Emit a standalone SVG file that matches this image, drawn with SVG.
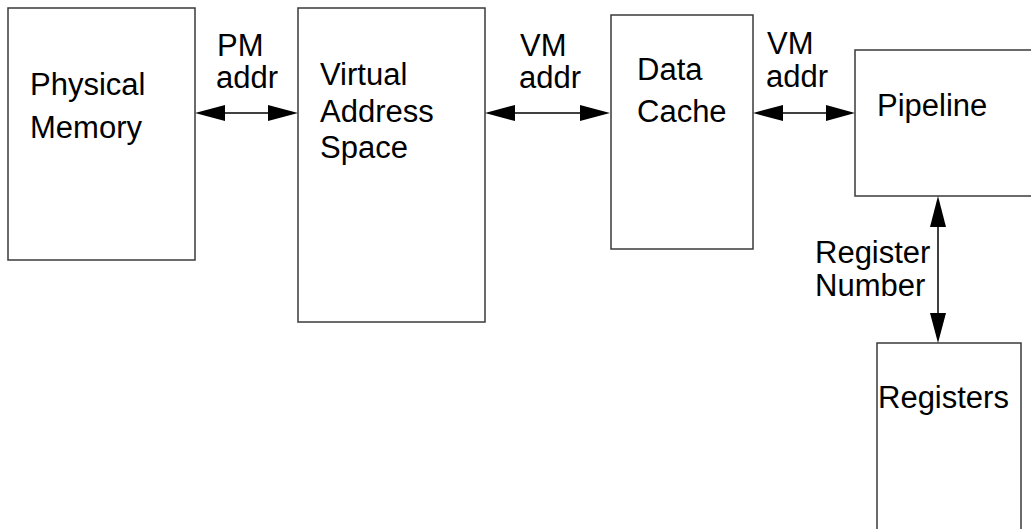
<svg xmlns="http://www.w3.org/2000/svg" width="1031" height="529" viewBox="0 0 1031 529">
  <style>
    .box { fill: #ffffff; stroke: #3a3a3a; stroke-width: 1.5; }
    .lbl { font-family: "Liberation Sans", Arial, sans-serif; font-size: 31px; fill: #000000; }
    .wire { stroke: #000000; stroke-width: 1.5; fill: none; }
    .head { fill: #000000; stroke: none; }
  </style>
  <rect width="1031" height="529" fill="#ffffff"/>

  <g id="physical-memory">
    <rect class="box" x="8" y="8" width="187" height="252"/>
    <text class="lbl" x="30" y="95">Physical</text>
    <text class="lbl" x="30" y="138">Memory</text>
  </g>

  <g id="virtual-address-space">
    <rect class="box" x="298" y="8" width="187" height="314"/>
    <text class="lbl" x="320" y="85">Virtual</text>
    <text class="lbl" x="320" y="122">Address</text>
    <text class="lbl" x="320" y="158">Space</text>
  </g>

  <g id="data-cache">
    <rect class="box" x="611" y="15" width="142" height="234"/>
    <text class="lbl" x="637" y="80">Data</text>
    <text class="lbl" x="637" y="122">Cache</text>
  </g>

  <g id="pipeline">
    <rect class="box" x="855" y="50" width="190" height="146"/>
    <text class="lbl" x="877" y="116">Pipeline</text>
  </g>

  <g id="registers">
    <rect class="box" x="877" y="343" width="144" height="200"/>
    <text class="lbl" x="878" y="408">Registers</text>
  </g>

  <g id="connectors">
    <!-- Physical Memory <-> Virtual Address Space -->
    <line class="wire" x1="220" y1="113" x2="272" y2="113"/>
    <polygon class="head" points="195,113 225,105 225,121"/>
    <polygon class="head" points="298,113 268,105 268,121"/>
    <text class="lbl" x="217" y="56">PM</text>
    <text class="lbl" x="216" y="88">addr</text>

    <!-- Virtual Address Space <-> Data Cache -->
    <line class="wire" x1="510" y1="113" x2="584" y2="113"/>
    <polygon class="head" points="485,113 515,105 515,121"/>
    <polygon class="head" points="610,113 580,105 580,121"/>
    <text class="lbl" x="520" y="56">VM</text>
    <text class="lbl" x="519" y="88">addr</text>

    <!-- Data Cache <-> Pipeline -->
    <line class="wire" x1="778" y1="113" x2="830" y2="113"/>
    <polygon class="head" points="753,113 783,105 783,121"/>
    <polygon class="head" points="855,113 826,105 826,121"/>
    <text class="lbl" x="767" y="54">VM</text>
    <text class="lbl" x="766" y="87">addr</text>

    <!-- Pipeline <-> Registers -->
    <line class="wire" x1="938" y1="222" x2="938" y2="318"/>
    <polygon class="head" points="938,196 930,227 946,227"/>
    <polygon class="head" points="938,343 930,313 946,313"/>
    <text class="lbl" x="815" y="263">Register</text>
    <text class="lbl" x="815" y="296">Number</text>
  </g>
</svg>
